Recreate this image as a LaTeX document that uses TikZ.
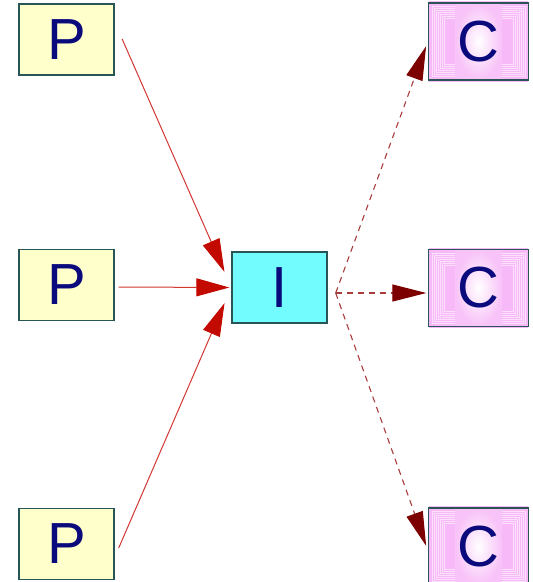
\documentclass[tikz,border=0pt]{standalone}
\usepackage{fontspec}
\setmainfont{Liberation Sans}
\usetikzlibrary{arrows.meta}
\definecolor{pfill}{RGB}{255,255,204}
\definecolor{ifill}{RGB}{115,252,253}
\definecolor{cfill}{RGB}{248,185,248}
\definecolor{cband}{RGB}{248,195,248}
\definecolor{boxline}{RGB}{40,85,85}
\definecolor{txt}{RGB}{10,10,125}
\definecolor{redline}{RGB}{210,55,50}
\definecolor{redtip}{RGB}{195,10,0}
\definecolor{dashline}{RGB}{170,60,60}
\definecolor{darktip}{RGB}{125,0,0}
\tikzset{
  x=1pt,y=-1pt,
  box/.style={draw=boxline,line width=1.4pt,minimum width=95pt,minimum height=71pt,inner sep=0pt,
    font=\fontsize{58}{58}\selectfont,text=txt},
  pbox/.style={box,fill=pfill},
  ibox/.style={box,fill=ifill},
  cbox/.style={box,minimum width=100pt,minimum height=77pt},
  solidarrow/.style={draw=redline,line width=1pt,-{Triangle[length=33pt,width=18pt,color=redtip]}},
  dasharrow/.style={draw=dashline,line width=1.1pt,dash pattern=on 6pt off 5pt,-{Triangle[length=34pt,width=17pt,color=darktip]}},
}
\newcommand{\cdeco}[1]{%
  \path[fill=cfill] ([xshift=1pt,yshift=1pt]#1.north west) rectangle ([xshift=-1pt,yshift=-1pt]#1.south east);
  \foreach \k in {4,6,...,16}{
    \draw[white,opacity=0.55,line width=0.6pt] ([xshift=\k pt,yshift=-\k pt]#1.north west) rectangle ([xshift=-\k pt,yshift=\k pt]#1.south east);
  }
  \path[inner color=white,outer color=cband] ([xshift=-23pt,yshift=-2pt]#1.north) rectangle ([xshift=23pt,yshift=2pt]#1.south);
}
\begin{document}
\begin{tikzpicture}
\useasboundingbox (0,0) rectangle (533,582);
\clip (0,0) rectangle (533,582);
% P boxes
\node[pbox] (P1) at (66.5,39.5) {P};
\node[pbox] (P2) at (66.5,285) {P};
\node[pbox] (P3) at (66.5,544) {P};
% I box
\node[ibox] (I) at (279.5,287.5) {I};
% C boxes
\node[cbox] (C1) at (478.5,41.5) {};
\node[cbox] (C2) at (478.5,288) {};
\node[cbox] (C3) at (478.5,546.5) {};
\foreach \c in {C1,C2,C3}{
  \cdeco{\c}
  \node[cbox,fill=none] at (\c) {C};
}
% solid arrows
\draw[solidarrow,shorten <=1pt,shorten >=17pt] ([xshift=7pt,yshift=1.5pt]P1.east) -- (I.west);
\draw[solidarrow,shorten >=2pt] ([xshift=4pt,yshift=-2pt]P2.east) -- (I.west);
\draw[solidarrow,shorten >=17pt] ([xshift=4pt,yshift=-4pt]P3.east) -- (I.west);
% dashed arrows
\draw[dasharrow,shorten >=5pt] ([xshift=8pt,yshift=-5.5pt]I.east) -- (C1.west);
\draw[dasharrow,shorten >=1.5pt] ([xshift=8pt,yshift=-5.5pt]I.east) -- ([yshift=-5pt]C2.west);
\draw[dasharrow,shorten >=5pt] ([xshift=8pt,yshift=-5.5pt]I.east) -- ([yshift=-4pt]C3.west);
\end{tikzpicture}
\end{document}
